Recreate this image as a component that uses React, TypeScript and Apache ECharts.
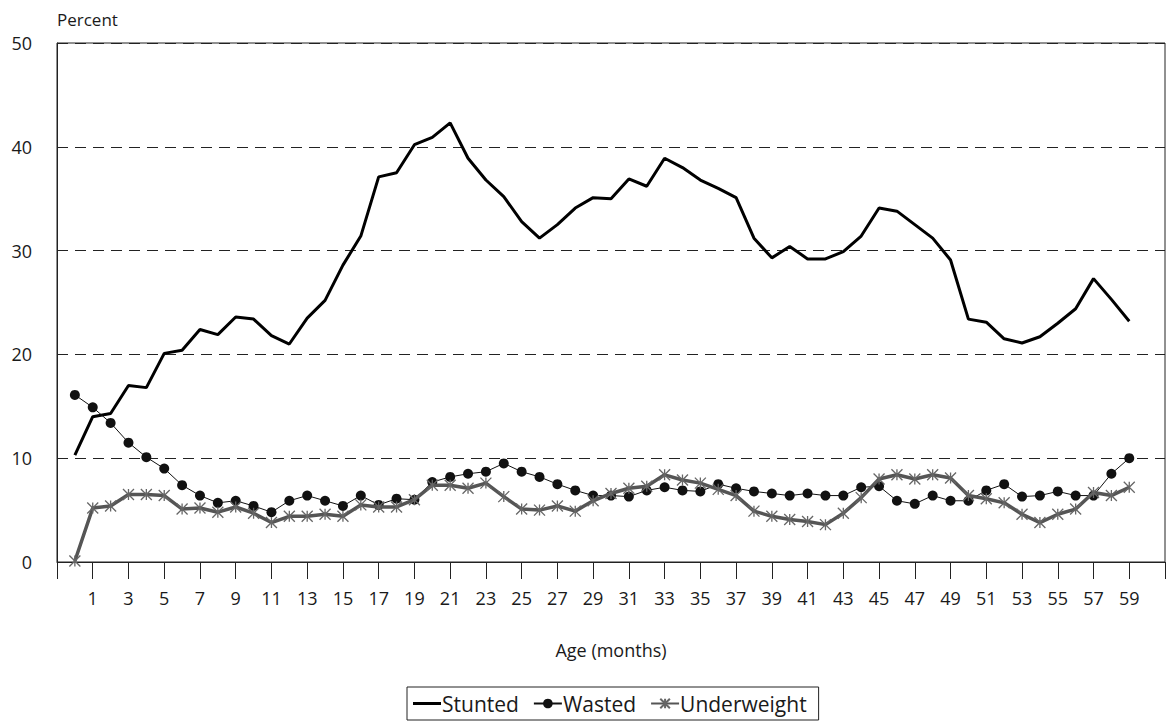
import React, { useEffect, useRef } from "react";
import * as echarts from "echarts";

// Age categories shown on the axis (-1 and 60, 61 are empty edge slots)
const axisCategories: string[] = [];
for (let a = -1; a <= 61; a++) axisCategories.push(String(a));

const stunted = [
  10.3, 14.0, 14.3, 17.0, 16.8, 20.1, 20.4, 22.4, 21.9, 23.6,
  23.4, 21.8, 21.0, 23.5, 25.2, 28.6, 31.4, 37.1, 37.5, 40.2,
  40.9, 42.3, 38.9, 36.8, 35.2, 32.8, 31.2, 32.5, 34.1, 35.1,
  35.0, 36.9, 36.2, 38.9, 38.0, 36.8, 36.0, 35.1, 31.2, 29.3,
  30.4, 29.2, 29.2, 29.9, 31.4, 34.1, 33.8, 32.5, 31.2, 29.1,
  23.4, 23.1, 21.5, 21.1, 21.7, 23.0, 24.4, 27.3, 25.3, 23.2,
];

const wasted = [
  16.1, 14.9, 13.4, 11.5, 10.1, 9.0, 7.4, 6.4, 5.7, 5.9,
  5.4, 4.8, 5.9, 6.4, 5.9, 5.4, 6.4, 5.5, 6.1, 6.0,
  7.7, 8.2, 8.5, 8.7, 9.5, 8.7, 8.2, 7.5, 6.9, 6.4,
  6.4, 6.3, 6.9, 7.2, 6.9, 6.8, 7.5, 7.1, 6.8, 6.6,
  6.4, 6.6, 6.4, 6.4, 7.2, 7.3, 5.9, 5.6, 6.4, 5.9,
  5.9, 6.9, 7.5, 6.3, 6.4, 6.8, 6.4, 6.4, 8.5, 10.0,
];

const underweight = [
  0.1, 5.2, 5.4, 6.5, 6.5, 6.4, 5.1, 5.2, 4.8, 5.3,
  4.7, 3.8, 4.4, 4.4, 4.6, 4.4, 5.5, 5.3, 5.3, 6.0,
  7.4, 7.4, 7.1, 7.6, 6.3, 5.1, 5.0, 5.4, 4.9, 5.9,
  6.6, 7.1, 7.3, 8.4, 7.9, 7.6, 7.0, 6.4, 4.9, 4.4,
  4.1, 3.9, 3.6, 4.7, 6.2, 8.0, 8.4, 8.0, 8.4, 8.1,
  6.4, 6.1, 5.7, 4.6, 3.8, 4.6, 5.1, 6.7, 6.4, 7.2,
];

const pad = (arr: number[]) => [null, ...arr, null, null];

const FONT = "'Open Sans', 'Noto Sans', sans-serif";
const TXT = "#1a1a1a";
const STAR = "path://M0,0L10,10M10,0L0,10M5,0L5,10";
const LINE_ICON = "path://M0,0L28,0L28,3L0,3Z";

export default function App() {
  const ref = useRef<HTMLDivElement>(null);
  useEffect(() => {
    if (!ref.current) return;
    const chart = echarts.init(ref.current, undefined, { renderer: "svg" });
    chart.setOption({
      animation: false,
      backgroundColor: "#fff",
      textStyle: { fontFamily: FONT },
      grid: {
        left: 57,
        right: 3,
        top: 43,
        bottom: 165,
        show: true,
        borderColor: "#222",
        borderWidth: 1,
      },
      graphic: [
        {
          type: "text",
          left: 57,
          top: 11,
          style: { text: "Percent", font: `17px ${FONT}`, fill: TXT },
        },
      ],
      legend: {
        left: 407,
        top: 687,
        orient: "horizontal",
        borderColor: "#222",
        borderWidth: 1,
        padding: [6, 12, 6, 6],
        itemGap: 14,
        itemWidth: 28,
        itemHeight: 12,
        textStyle: { fontSize: 21, color: TXT, fontFamily: FONT, padding: [0, 0, 0, -4] },
        data: [
          { name: "Stunted", icon: LINE_ICON, itemStyle: { color: "#000" } },
          { name: "Wasted" },
          { name: "Underweight" },
        ],
      },
      xAxis: {
        type: "category",
        data: axisCategories,
        boundaryGap: false,
        name: "Age (months)",
        nameLocation: "middle",
        nameGap: 79,
        nameTextStyle: { fontSize: 18, color: TXT, fontFamily: FONT },
        axisLine: { show: true, lineStyle: { color: "#222", width: 1 } },
        axisTick: {
          show: true,
          length: 17,
          interval: (_i: number, v: string) => Math.abs(Number(v)) % 2 === 1,
          lineStyle: { color: "#222", width: 1 },
        },
        axisLabel: {
          interval: (_i: number, v: string) => {
            const n = Number(v);
            return n >= 1 && n <= 59 && n % 2 === 1;
          },
          margin: 27,
          fontSize: 18,
          color: TXT,
          fontFamily: FONT,
        },
        splitLine: { show: false },
      },
      yAxis: {
        type: "value",
        min: 0,
        max: 50,
        interval: 10,
        axisLine: { show: true, lineStyle: { color: "#222", width: 1 } },
        axisTick: { show: false },
        axisLabel: { margin: 25, fontSize: 18, color: TXT, fontFamily: FONT },
        splitLine: {
          show: true,
          lineStyle: { color: "#222", width: 1, type: [11, 7] },
        },
      },
      series: [
        {
          name: "Stunted",
          type: "line",
          data: pad(stunted),
          showSymbol: false,
          symbol: "none",
          lineStyle: { color: "#000", width: 3 },
          itemStyle: { color: "#000" },
          z: 3,
        },
        {
          name: "Wasted",
          type: "line",
          data: pad(wasted),
          symbol: "circle",
          symbolSize: 10,
          lineStyle: { color: "#111", width: 1 },
          itemStyle: { color: "#111" },
          z: 4,
        },
        {
          name: "Underweight",
          type: "line",
          data: pad(underweight),
          symbol: STAR,
          symbolSize: 11,
          lineStyle: { color: "#555", width: 3.5 },
          itemStyle: { color: "#666", borderColor: "#666", borderWidth: 1.3 },
          z: 5,
        },
      ],
    });
    return () => chart.dispose();
  }, []);
  return (
    <div
      ref={ref}
      style={{ position: "fixed", left: 0, top: 0, width: 1168, height: 727 }}
    />
  );
}
